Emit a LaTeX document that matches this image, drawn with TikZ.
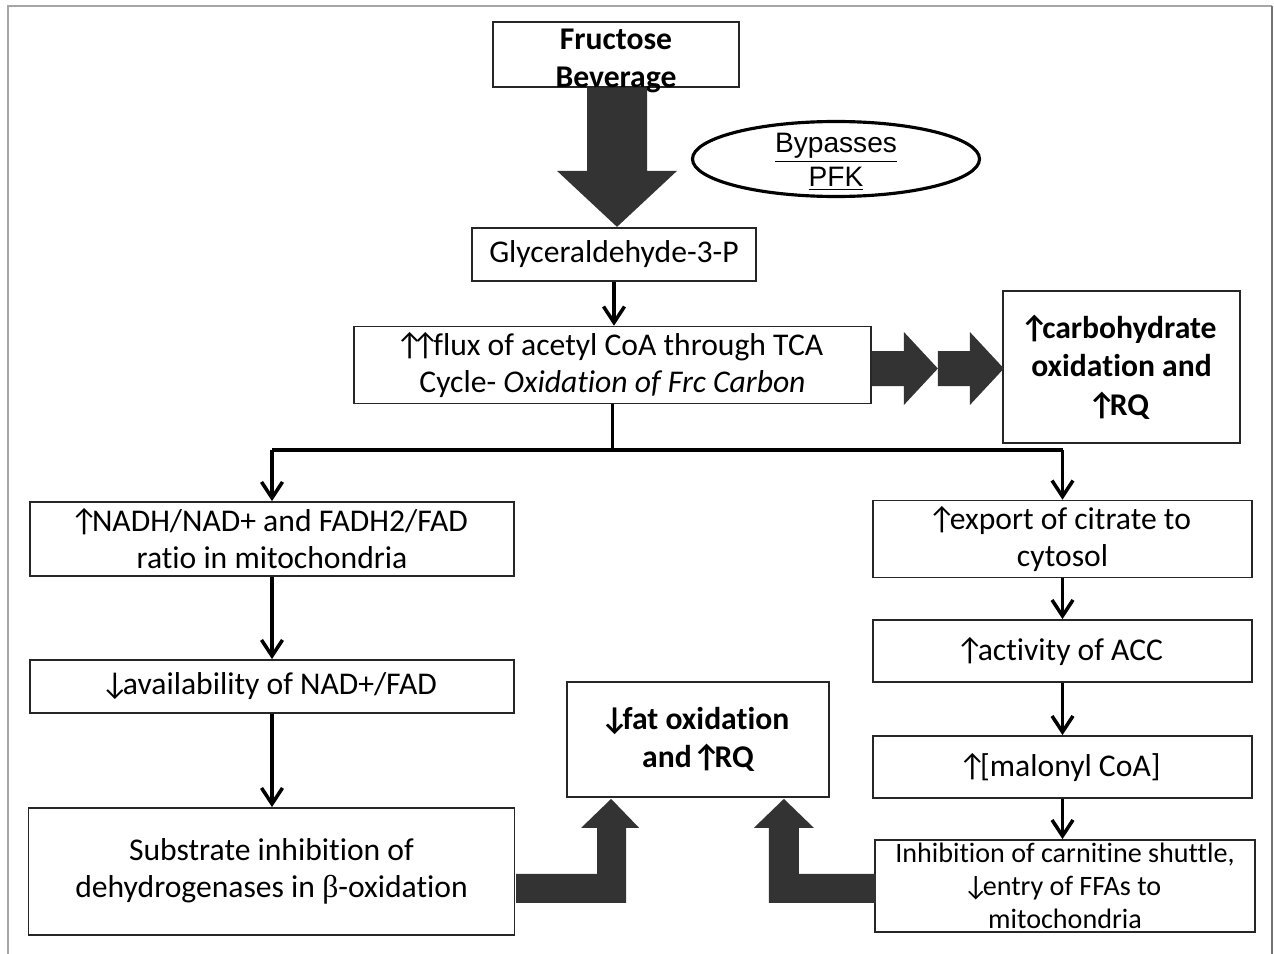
\documentclass[tikz,border=0pt]{standalone}
\usepackage{fontspec}
\setmainfont{Carlito}[Ligatures=NoCommon]
\newfontfamily\arialfont{Liberation Sans}
\newfontfamily\greekfont{Liberation Serif}
\usepackage{tikz}
\usetikzlibrary{arrows.meta, shapes, calc}

\newcommand{\uarr}{\makebox[0.5em][c]{↑}}
\newcommand{\darr}{\makebox[0.5em][c]{↓}}

\tikzset{
  blockarrow/.style={fill=black!80, draw=none},
  txt/.style={font=\fontsize{18}{21}\selectfont},
  boldtxt/.style={font=\bfseries\fontsize{18}{22}\selectfont}
}

\begin{document}
\begin{tikzpicture}
            \useasboundingbox (0,0) rectangle (25.48,-19.08);
            % outer frame
            \draw[gray!70, line width=0.8pt] (0.16,-19.08) -- (0.16,-0.12) -- (25.44,-0.12);
            \draw[black!55, line width=1.5pt] (25.44,-0.12) -- (25.44,-19.08);

            \begin{scope}[every node/.style={rectangle,draw=black!85,line width=1pt,align=center,txt}]
                \node[minimum width=4.92cm, minimum height=1.3cm] (FRC) at (12.32,-1.09) {};
                \node[boldtxt, draw=none, inner sep=0pt] (FRCtxt) at (12.32,-1.22) {Fructose\\Beverage};
                \node[minimum width=5.68cm, minimum height=1.06cm] (G3P) at (12.28,-5.09) {Glyceraldehyde-3-P};
                \node[minimum width=10.34cm, minimum height=1.28cm] (TCA) at (12.25,-7.30) {\uarr\uarr flux of acetyl CoA through TCA\\Cycle- \textit{Oxidation of Frc Carbon}};
                \node[boldtxt, minimum width=4.74cm, minimum height=3.04cm] (CHO) at (22.43,-7.34) {\uarr carbohydrate\\oxidation and\\\uarr RQ};
                \node[minimum width=9.68cm, minimum height=1.48cm] (NADH) at (5.44,-10.78) {\uarr NADH/NAD+ and FADH2/FAD\\ratio in mitochondria};
                \node[minimum width=9.68cm, minimum height=1.06cm] (NADFAD) at (5.44,-13.73) {\darr availability of NAD+/FAD};
                \node[minimum width=9.72cm, minimum height=2.54cm] (SUBST) at (5.43,-17.43) {Substrate inhibition of\\dehydrogenases in {\greekfont β}-oxidation};
                \node[minimum width=7.58cm, minimum height=1.48cm] (CIT) at (21.25,-10.78) {\uarr export of citrate to\\cytosol};
                \node[minimum width=7.58cm, minimum height=1.24cm] (ACC) at (21.25,-13.02) {\uarr activity of ACC};
                \node[minimum width=7.58cm, minimum height=1.24cm] (MCoA) at (21.25,-15.34) {\uarr[malonyl CoA]};
                \node[font=\fontsize{16}{18.7}\selectfont, inner ysep=0pt, minimum width=7.6cm, minimum height=1.84cm] (CPT) at (21.30,-17.72) {Inhibition of carnitine shuttle,\\\darr entry of FFAs to\\mitochondria};
                \node[boldtxt, minimum width=5.24cm, minimum height=2.3cm] (FATOX) at (13.96,-14.79) {\darr fat oxidation\\and \uarr RQ};
                \node[shape=ellipse, draw=black, line width=1.8pt, inner sep=0pt, minimum width=5.74cm, minimum height=1.5cm] (PFK) at (16.72,-3.18) {};
                \node[draw=none, inner sep=0pt, font=\arialfont\fontsize{16}{19.3}\selectfont] (PFKtxt) at (16.72,-3.24) {\underline{Bypasses}\\\underline{PFK}};
            \end{scope}

            \coordinate (split) at (12.3,-9.0);

            \begin{scope}[>={Straight Barb[length=3.2mm,width=4.2mm]},
                          every edge/.style={draw=black, line width=2pt}]
                 \path[->] (G3P.south) edge node {} (G3P.south |- TCA.north);
                 \draw[line width=2pt] (TCA.south) -- (TCA.south |- split);
                 \draw[line width=2pt] (NADH.north |- split) -- (CIT.north |- split);
                 \path[->] (NADH.north |- split) edge node {} (NADH.north);
                 \path[->] (CIT.north |- split) edge node {} (CIT.north);
                 \path[->] (NADH) edge node {} (NADFAD);
                 \path[->] (NADFAD.south) edge node {} (NADFAD.south |- SUBST.north);
                 \path[->] (CIT) edge node {} (ACC);
                 \path[->] (ACC) edge node {} (MCoA);
                 \path[->] (MCoA.south) edge node {} (MCoA.south |- CPT.north);
            \end{scope}

            % block arrows
            \fill[blockarrow] ($(FRC.south)+(0.02,0)$) -- ++(0.6,0) -- ++(0,-1.66) -- ++(0.6,0)
                -- ++(-1.2,-1.12) -- ++(-1.2,1.12) -- ++(0.6,0) -- ++(0,1.66) -- cycle;
            \foreach \s in {0,1.32}
                \fill[blockarrow] ($(TCA.east)+(\s,-0.07)$) -- ++(0,0.35) -- ++(0.64,0) -- ++(0,0.38)
                    -- ++(0.68,-0.73) -- ++(-0.68,-0.73) -- ++(0,0.38) -- ++(-0.64,0) -- cycle;
            \fill[blockarrow] ($(FATOX.south west)+(0.9,-0.02)$) -- ++(0.56,-0.58) -- ++(-0.26,0) -- ++(0,-1.5)
                -- ++(-2.2,0) -- ++(0,0.58) -- ++(1.62,0) -- ++(0,0.92) -- ++(-0.32,0) -- cycle;
            \fill[blockarrow] ($(FATOX.south east)+(-0.92,-0.02)$) -- ++(0.6,-0.58) -- ++(-0.3,0) -- ++(0,-0.92)
                -- ++(1.54,0) -- ++(0,-0.58) -- ++(-2.14,0) -- ++(0,1.5) -- ++(-0.3,0) -- cycle;
\end{tikzpicture}
\end{document}
